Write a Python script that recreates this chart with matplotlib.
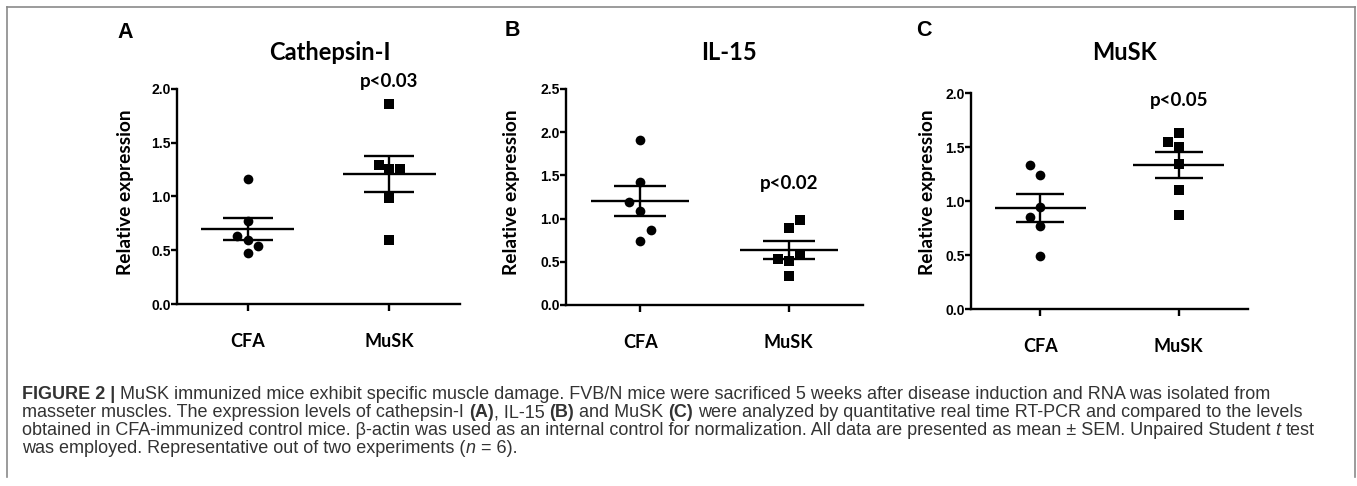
import numpy as np
import matplotlib
matplotlib.use("Agg")
import matplotlib.pyplot as plt
from matplotlib.lines import Line2D

# ---------------- data ----------------
groups = ["CFA", "MuSK"]
titles = ["Cathepsin-I", "IL-15", "MuSK"]
panel_letters = ["A", "B", "C"]
p_labels = ["p<0.03", "p<0.02", "p<0.05"]

cathepsin_cfa = [1.16, 0.77, 0.63, 0.60, 0.54, 0.47]
cathepsin_musk = [1.86, 1.29, 1.26, 1.26, 0.99, 0.60]
il15_cfa = [1.91, 1.42, 1.19, 1.09, 0.87, 0.74]
il15_musk = [0.98, 0.89, 0.59, 0.53, 0.51, 0.33]
musk_cfa = [1.33, 1.24, 0.94, 0.85, 0.77, 0.49]
musk_musk = [1.63, 1.55, 1.50, 1.34, 1.10, 0.87]

yticks_A = [0.0, 0.5, 1.0, 1.5, 2.0]
yticks_B = [0.0, 0.5, 1.0, 1.5, 2.0, 2.5]
yticks_C = [0.0, 0.5, 1.0, 1.5, 2.0]

# horizontal placement of overlapping points (scatter-plot layout, not data)
offsets = {
    "A": ([0, 0, -1, 0, 1, 0], [0, -1, 0, 1, 0, 0]),
    "B": ([0, 0, -1, 0, 1, 0], [1, 0, 1, -1, 0, 0]),
    "C": ([-1, 0, 0, -1, 0, 0], [0, -1, 0, 0, 0, 0]),
}

W, H = 1357, 486
fig = plt.figure(figsize=(W / 100, H / 100), dpi=100)
fig.patch.set_facecolor("white")

LW = 1.7
CAL = ["Lato", "DejaVu Sans"]
ARIAL = ["Liberation Sans", "DejaVu Sans"]


def fx(px):
    return px / W


def fy(py):
    return 1 - py / H


# axes rectangles in pixels: (x0, x1, y_top, y_bottom)
rects = [(177, 460, 89, 304), (566, 863, 89, 305), (971, 1248, 93, 309)]
datasets = [(cathepsin_cfa, cathepsin_musk), (il15_cfa, il15_musk), (musk_cfa, musk_musk)]
yticks_all = [yticks_A, yticks_B, yticks_C]
letter_pos = [(125, 32), (512, 30), (924, 31)]
title_pos = [(330, 52), (729, 52), (1125, 52)]
ylabel_pos = [(125, 192), (512, 192), (927, 192)]
p_ypos = [82, 184, 100]

step = 0.075
for i in range(3):
    x0, x1, yt, yb = rects[i]
    ax = fig.add_axes([fx(x0), fy(yb), fx(x1 - x0), (yb - yt) / H])
    ticks = yticks_all[i]
    ax.set_xlim(-0.5, 1.5)
    ax.set_ylim(0, ticks[-1])
    for sp in ["top", "right"]:
        ax.spines[sp].set_visible(False)
    for sp in ["left", "bottom"]:
        ax.spines[sp].set_linewidth(LW)
    ax.set_yticks(ticks)
    ax.set_yticklabels([f"{t:.1f}" for t in ticks], family=ARIAL,
                       fontweight="bold", fontsize=10)
    ax.set_xticks([0, 1])
    ax.set_xticklabels(groups, family=CAL, fontweight="bold", fontsize=13)
    ax.tick_params(axis="y", length=4, width=LW, pad=0.5)
    ax.tick_params(axis="x", length=5, width=LW, pad=16)
    ax.patch.set_alpha(0)

    letter = panel_letters[i]
    for g, (vals, marker) in enumerate(zip(datasets[i], ["o", "s"])):
        vals = np.asarray(vals)
        xs = g + step * np.asarray(offsets[letter][g])
        ax.plot(xs, vals, linestyle="none", marker=marker,
                ms=7 if marker == "o" else 6.6, color="black",
                markeredgewidth=0, clip_on=False, zorder=3)
        m = vals.mean()
        sem = vals.std(ddof=1) / np.sqrt(len(vals))
        ax.plot([g - 0.33, g + 0.33], [m, m], color="black", lw=LW,
                solid_capstyle="butt", zorder=4)
        for v in (m - sem, m + sem):
            ax.plot([g - 0.175, g + 0.175], [v, v], color="black", lw=LW,
                    solid_capstyle="butt", zorder=4)
        ax.plot([g, g], [m - sem, m + sem], color="black", lw=LW,
                solid_capstyle="butt", zorder=4)

    # p-value over the MuSK group
    yv = (yb - p_ypos[i]) / (yb - yt) * ticks[-1]
    ax.text(1, yv, p_labels[i], ha="center", va="center", family=CAL,
            fontweight="bold", fontsize=13.5, clip_on=False)

    lx, ly = letter_pos[i]
    fig.text(fx(lx), fy(ly), letter, ha="center", va="center",
             family=ARIAL, fontweight="bold", fontsize=15.5)
    tx, ty = title_pos[i]
    fig.text(fx(tx), fy(ty), titles[i], ha="center", va="center",
             family=CAL, fontweight="bold", fontsize=17)
    yx, yy = ylabel_pos[i]
    fig.text(fx(yx), fy(yy), "Relative expression", ha="center", va="center",
             rotation=90, family=CAL, fontweight="bold", fontsize=13.75)

# ---------------- outer frame ----------------
frame_col = "#8a8a8a"
for (xa, ya, xb, yb_) in [(7, 7, 1355, 7), (7, 7, 7, 477), (1355, 7, 1355, 477)]:
    fig.add_artist(Line2D([fx(xa), fx(xb)], [fy(ya), fy(yb_)],
                          color=frame_col, lw=1.2, transform=fig.transFigure))

# ---------------- caption ----------------
cap_lines = [
    [("FIGURE 2 |", "b"),
     (" MuSK immunized mice exhibit specific muscle damage. FVB/N mice were sacrificed 5 weeks after disease induction and RNA was isolated from", "r")],
    [("masseter muscles. The expression levels of cathepsin-I", "r"), (" (A)", "b"),
     (", IL-15", "r"), (" (B)", "b"), (" and MuSK", "r"), (" (C)", "b"),
     (" were analyzed by quantitative real time RT-PCR and compared to the levels", "r")],
    [("obtained in CFA-immunized control mice. \u03b2-actin was used as an internal control for normalization. All data are presented as mean \u00b1 SEM. Unpaired Student", "r"),
     (" t", "i"), (" test", "r")],
    [("was employed. Representative out of two experiments (", "r"), ("n", "i"), (" = 6).", "r")],
]
baselines = [399, 417, 435, 453]
cap_size = 13.0
cap_col = "#333333"
renderer = fig.canvas.get_renderer()


def measure(txt, kind):
    t = fig.text(0, 0, txt, fontsize=cap_size, family=ARIAL,
                 fontweight="bold" if kind == "b" else "normal",
                 style="italic" if kind == "i" else "normal")
    w = t.get_window_extent(renderer).width
    t.remove()
    return w


space_w = measure("x x", "r") - measure("xx", "r")

for line, base in zip(cap_lines, baselines):
    x = 22.0
    for txt, kind in line:
        if txt.startswith(" "):
            x += space_w
            txt = txt[1:]
        t = fig.text(fx(x), fy(base), txt, fontsize=cap_size, family=ARIAL,
                     color=cap_col, va="baseline", ha="left",
                     fontweight="bold" if kind == "b" else "normal",
                     style="italic" if kind == "i" else "normal")
        x += t.get_window_extent(renderer).width

fig.savefig("out.png", dpi=100, facecolor="white")
